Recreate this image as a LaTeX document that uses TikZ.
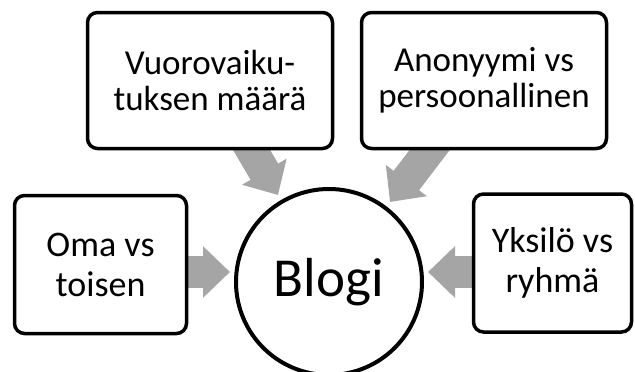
\documentclass[tikz,border=0pt]{standalone}
\usepackage{fontspec}
\setmainfont{Carlito}
\usetikzlibrary{arrows.meta,calc}
\pgfdeclarelayer{bg}
\pgfsetlayers{bg,main}
\definecolor{arrowgray}{RGB}{165,165,165}
\begin{document}
\begin{tikzpicture}[x=1pt,y=-1pt,
  box/.style={draw=black, line width=3.5pt, rounded corners=10pt, fill=white,
    align=center, inner sep=0pt},
  topbox/.style={box, font=\fontsize{35}{36}\selectfont, minimum width=245pt, minimum height=136pt},
  sidebox/.style={box, font=\fontsize{36}{40}\selectfont, minimum height=138pt},
  hub/.style={circle, draw=black, line width=4pt, fill=white, minimum size=186pt,
    inner sep=0pt, font=\fontsize{55}{60}\selectfont},
  bigarrow/.style={draw=arrowgray, line width=32pt, -{Triangle[width=50pt,length=27pt]}}]
\useasboundingbox (0,0) rectangle (635,372);
\node[hub] (blog) at (329,282) {Blogi};
\node[topbox] (tl) at (210,80.5) {Vuorovaiku-\\tuksen määrä};
\node[topbox] (tr) at (484,80.5) {Anonyymi vs\\persoonallinen};
\node[sidebox, minimum width=172pt] (lf) at (100.5,264.5) {Oma vs\\toisen};
\node[sidebox, minimum width=158pt] (rt) at (552.5,263) {Yksilö vs\\ryhmä};
\coordinate (tipL) at (230,272);
\coordinate (tipR) at (428,272);
\coordinate (tipTL) at (278,195);
\coordinate (tipTR) at (390,202);
\begin{pgfonlayer}{bg}
\draw[bigarrow] (tipL -| lf) -- (tipL);
\draw[bigarrow] (tipR -| rt) -- (tipR);
\draw[bigarrow] ($(tipTL)!-80pt!(blog)$) -- (tipTL);
\draw[bigarrow] ($(tipTR)!-90pt!(blog)$) -- (tipTR);
\end{pgfonlayer}
\end{tikzpicture}
\end{document}
